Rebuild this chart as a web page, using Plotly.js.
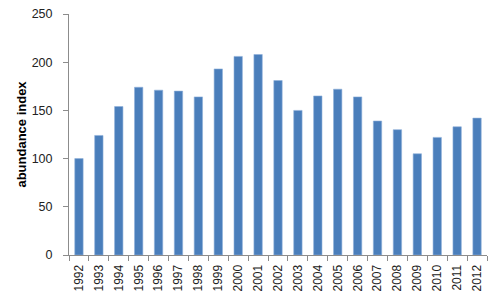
<!DOCTYPE html>
<html><head><meta charset="utf-8">
<script src="https://cdn.plot.ly/plotly-3.0.1.min.js"></script>
<style>html,body{margin:0;padding:0;background:#fff}#chart{width:500px;height:300px}</style>
</head><body><div id="chart"></div>
<script>
const years = ['1992','1993','1994','1995','1996','1997','1998','1999','2000','2001','2002','2003','2004','2005','2006','2007','2008','2009','2010','2011','2012'];
const abundance = [100,124,154,174,171,170,164,193,206,208,181,150,165,172,164,139,130,105,122,133,142];
const yTicks = [0,50,100,150,200,250];

Plotly.newPlot('chart', [{
  type: 'bar',
  x: years,
  y: abundance,
  width: 0.42,
  marker: {color: '#4A7EBB', line: {color: '#8FB0DA', width: 0.6}}
}], {
  width: 500, height: 300,
  margin: {l: 69, r: 13, t: 14, b: 45},
  paper_bgcolor: '#fff', plot_bgcolor: '#fff',
  font: {family: 'Liberation Sans, Arial, sans-serif', size: 12, color: '#222'},
  showlegend: false,
  bargap: 0.58,
  xaxis: {
    type: 'category',
    tickangle: -90,
    showline: true, linecolor: '#8c8c8c', linewidth: 1,
    ticks: 'outside', tickson: 'boundaries', ticklen: 5, tickcolor: '#8c8c8c',
    ticklabelstandoff: 4,
    showgrid: false, zeroline: false,
    tickfont: {size: 12, color: '#222'}
  },
  yaxis: {
    range: [0, 250],
    tickvals: yTicks,
    showline: true, linecolor: '#8c8c8c', linewidth: 1,
    ticks: 'outside', ticklen: 5, tickcolor: '#8c8c8c',
    ticklabelstandoff: 8,
    showgrid: false, zeroline: false,
    tickfont: {size: 12.5, color: '#222'},
    title: {text: '<b>abundance index</b>', font: {size: 13, color: '#000'}, standoff: 2}
  }
}, {displayModeBar: false, staticPlot: true});
</script></body></html>
